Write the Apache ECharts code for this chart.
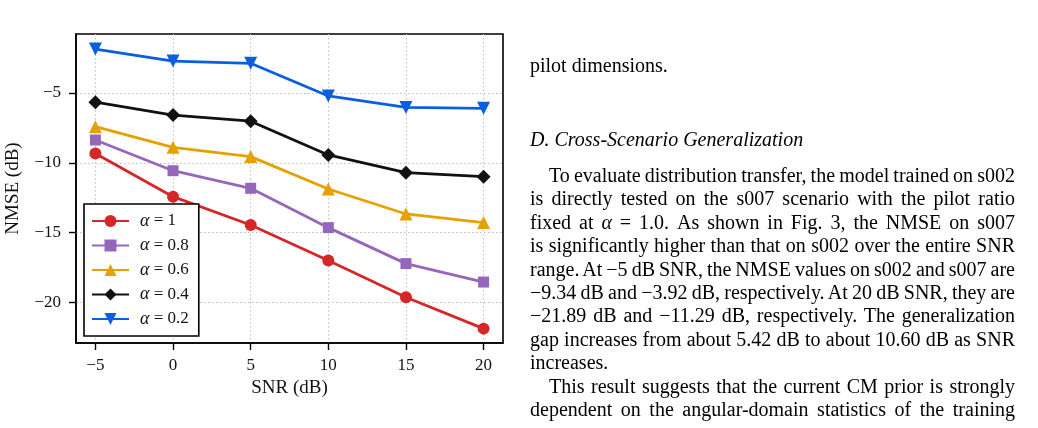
<!DOCTYPE html>
<html>
<head>
<meta charset="utf-8">
<script src="https://cdn.jsdelivr.net/npm/echarts@6/dist/echarts.min.js"></script>
<style>
  html, body { margin: 0; padding: 0; background: #fff; }
  #chart { position: absolute; left: 0; top: 0; width: 1038px; height: 428px; }
  #col { position: absolute; left: 530px; top: 0; width: 485px;
         font-family: 'Liberation Serif', 'Times New Roman', serif; font-size: 20px; color: #000; }
  .ln { position: absolute; left: 0; width: 485px; height: 24px; line-height: 24px; white-space: nowrap; }
  .j { text-align: justify; text-align-last: justify; white-space: normal; word-spacing: -3px; }
  .ind { text-indent: 19px; }
  i { font-style: italic; }
</style>
</head>
<body>
<div id="chart"></div>
<div id="col"></div>
<script>
// SNR sweep, NMSE in dB for each pilot ratio alpha
const snr = [-5, 0, 5, 10, 15, 20];
const nmseA10 = [-9.34, -12.43, -14.46, -17.01, -19.64, -21.89];
const nmseA08 = [-8.37, -10.57, -11.83, -14.65, -17.23, -18.55];
const nmseA06 = [-7.41, -8.89, -9.56, -11.88, -13.67, -14.29];
const nmseA04 = [-5.66, -6.58, -7.02, -9.44, -10.71, -11.00];
const nmseA02 = [-1.85, -2.71, -2.87, -5.21, -6.03, -6.10];
const xTicks = [-5, 0, 5, 10, 15, 20];
const yTicks = [-20, -15, -10, -5];
const alphaNames = ['1', '0.8', '0.6', '0.4', '0.2'];

const font = 'Liberation Serif';
const minus = (v) => (v < 0 ? '\u2212' + Math.abs(v) : String(v));

const pairs = (ys) => snr.map((x, i) => [x, ys[i]]);

const makeSeries = (name, ys, color, symbol, size, rotate) => ({
    name: name,
    type: 'line',
    data: pairs(ys),
    symbol: symbol,
    symbolSize: size,
    symbolRotate: rotate || 0,
    lineStyle: { color: color, width: 2.8 },
    itemStyle: { color: color },
    emphasis: { disabled: true }
});

const axisBase = {
    type: 'value',
    nameLocation: 'middle',
    nameTextStyle: { fontFamily: font, fontSize: 19, color: '#111' },
    axisLine: { show: true, onZero: false, lineStyle: { color: '#000', width: 1.6 } },
    splitLine: { show: true, lineStyle: { type: [1.5, 2.5], color: '#bdbdbd', width: 1 } }
};

const renderChart = () => {
    const myChart = echarts.init(document.getElementById('chart'));
    const option = {
        animation: false,
        backgroundColor: '#fff',
        grid: {
            // frame of the plot area
            left: 76,
            top: 34,
            right: 535,
            bottom: 85,
            show: true,
            borderColor: '#000',
            borderWidth: 1.6,
            backgroundColor: 'transparent'
        },
        legend: {
            orient: 'vertical',
            left: 84,
            top: 204,
            itemWidth: 37,
            itemHeight: 15,
            itemGap: 6.5,
            padding: [8, 10, 8, 7],
            backgroundColor: '#fff',
            borderColor: '#000',
            borderWidth: 1.6,
            borderRadius: 0,
            data: alphaNames.map((a) => 'a' + a),
            formatter: (name) => '{i|\u03b1}{t| = ' + name.slice(1) + '}',
            textStyle: {
                color: '#111',
                rich: {
                    i: { fontFamily: font, fontStyle: 'italic', fontSize: 18, color: '#111', padding: [0, 0, 0, 6] },
                    t: { fontFamily: font, fontSize: 17, color: '#111' }
                }
            }
        },
        xAxis: Object.assign({}, axisBase, {
            min: -6.25,
            max: 21.25,
            name: 'SNR (dB)',
            nameGap: 36,
            axisTick: { show: true, length: 7, lineStyle: { color: '#000', width: 1.4 }, customValues: xTicks },
            axisLabel: { customValues: xTicks, formatter: minus, fontFamily: font, fontSize: 17, color: '#111', margin: 14 }
        }),
        yAxis: Object.assign({}, axisBase, {
            min: -22.92,
            max: -0.77,
            name: 'NMSE (dB)',
            nameRotate: 90,
            nameGap: 53,
            axisTick: { show: true, length: 7, lineStyle: { color: '#000', width: 1.4 }, customValues: yTicks },
            axisLabel: { customValues: yTicks, formatter: minus, fontFamily: font, fontSize: 17, color: '#111', margin: 15 }
        }),
        series: [
            makeSeries('a1', nmseA10, '#d62728', 'circle', 12),
            makeSeries('a0.8', nmseA08, '#9467bd', 'rect', 11),
            makeSeries('a0.6', nmseA06, '#e6a100', 'triangle', 13),
            makeSeries('a0.4', nmseA04, '#111111', 'diamond', 14),
            makeSeries('a0.2', nmseA02, '#0a5fe0', 'triangle', 13, 180)
        ]
    };
    option && myChart.setOption(option);
};

// right column of the page: [text, centre y, class]
const lines = [
    ['pilot dimensions.', 65, ''],
    ['<i>D. Cross-Scenario Generalization</i>', 139, ''],
    ['To evaluate distribution transfer, the model trained on s002', 175, 'j ind'],
    ['is directly tested on the s007 scenario with the pilot ratio', 198.4, 'j'],
    ['fixed at <i>\u03b1</i> = 1.0. As shown in Fig. 3, the NMSE on s007', 221.8, 'j'],
    ['is significantly higher than that on s002 over the entire SNR', 245.2, 'j'],
    ['range. At \u22125 dB SNR, the NMSE values on s002 and s007 are', 268.6, 'j'],
    ['\u22129.34 dB and \u22123.92 dB, respectively. At 20 dB SNR, they are', 292, 'j'],
    ['\u221221.89 dB and \u221211.29 dB, respectively. The generalization', 315.4, 'j'],
    ['gap increases from about 5.42 dB to about 10.60 dB as SNR', 338.8, 'j'],
    ['increases.', 362.2, ''],
    ['This result suggests that the current CM prior is strongly', 385.6, 'j ind'],
    ['dependent on the angular-domain statistics of the training', 409, 'j']
];
const col = document.getElementById('col');
lines.forEach(([t, y, cls]) => {
    const d = document.createElement('div');
    d.className = 'ln ' + cls;
    d.style.top = (y - 12) + 'px';
    d.innerHTML = t;
    col.appendChild(d);
});

renderChart();
</script>
</body>
</html>
